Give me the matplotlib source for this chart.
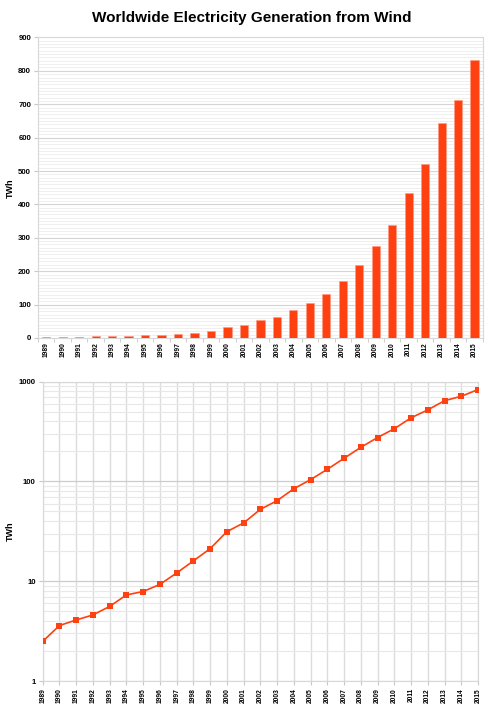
import matplotlib
matplotlib.use('Agg')
from matplotlib import pyplot as plt
from matplotlib.ticker import FixedLocator, NullFormatter, LogLocator
import numpy as np

years = [str(y) for y in range(1989, 2016)]
twh = [2.5, 3.6, 4.1, 4.6, 5.6, 7.3, 7.9, 9.3, 12.1, 16.0, 21.2, 31.4, 38.4,
       52.5, 64.2, 84.5, 104.3, 132.3, 170.5, 219.4, 275.4, 337.2, 433.5,
       520.6, 643.9, 712.7, 831.8]

red = '#ff4010'
plt.rcParams['font.family'] = ['Liberation Sans', 'DejaVu Sans']

fig = plt.figure(figsize=(5.04, 7.2), dpi=100)
fig.suptitle('Worldwide Electricity Generation from Wind', fontsize=11,
             fontweight='bold', y=0.985)

x = np.arange(len(years))

# --- linear bar chart ---
ax1 = fig.add_axes([0.0754, 0.5306, 0.8826, 0.4174])
ax1.bar(x, twh, width=0.5, color=red, edgecolor='#ff9a80', linewidth=0.5, zorder=3)
ax1.set_xlim(-0.5, len(years) - 0.5)
ax1.set_ylim(0, 900)
ax1.set_yticks(np.arange(0, 901, 100))
ax1.yaxis.set_minor_locator(FixedLocator(np.arange(0, 901, 10)))
ax1.grid(axis='y', which='major', color='#d4d4d4', linewidth=0.8, zorder=0)
ax1.grid(axis='y', which='minor', color='#ececec', linewidth=0.6, zorder=0)
ax1.set_xticks(x)
ax1.set_xticklabels(years, rotation=90, fontsize=4.8, fontweight='bold')
ax1.xaxis.set_minor_locator(FixedLocator(np.arange(-0.5, len(years), 1)))
ax1.tick_params(axis='x', which='major', length=0, pad=3)
ax1.tick_params(axis='x', which='minor', length=3, color='#c8c8c8')
ax1.tick_params(axis='y', which='major', length=3, color='#c8c8c8', labelsize=5.6, pad=2)
ax1.tick_params(axis='y', which='minor', length=0)
for lbl in ax1.get_yticklabels():
    lbl.set_fontweight('bold')
for s in ax1.spines.values():
    s.set_color('#d8d8d8')
fig.text(10 / 504, 1 - 188 / 720, 'TWh', rotation=90, fontsize=6.5,
         fontweight='bold', ha='center', va='center')

# --- log line chart ---
ax2 = fig.add_axes([0.0847, 0.054, 0.8637, 0.416])
ax2.plot(x, twh, color=red, linewidth=1.2, marker='s', markersize=4.3,
         markeredgewidth=0, zorder=3)
ax2.set_yscale('log')
ax2.set_ylim(1, 1000)
ax2.set_xlim(0, len(years) - 1)
ax2.set_yticks([1, 10, 100, 1000])
ax2.set_yticklabels(['1', '10', '100', '1000'])
ax2.yaxis.set_minor_locator(LogLocator(base=10, subs=np.arange(2, 10)))
ax2.yaxis.set_minor_formatter(NullFormatter())
ax2.set_xticks(x)
ax2.set_xticklabels(years, rotation=90, fontsize=4.8, fontweight='bold')
ax2.grid(axis='x', color='#dcdcdc', linewidth=1.0, zorder=0)
ax2.grid(axis='y', which='major', color='#cccccc', linewidth=0.9, zorder=0)
ax2.grid(axis='y', which='minor', color='#e8e8e8', linewidth=0.8, zorder=0)
ax2.tick_params(axis='x', length=3, color='#c8c8c8', pad=2)
ax2.tick_params(axis='y', which='major', length=3, color='#c8c8c8', labelsize=5.6, pad=2)
ax2.tick_params(axis='y', which='minor', length=0)
for lbl in ax2.get_yticklabels():
    lbl.set_fontweight('bold')
for s in ax2.spines.values():
    s.set_color('#d8d8d8')
fig.text(10 / 504, 1 - 531 / 720, 'TWh', rotation=90, fontsize=6.5,
         fontweight='bold', ha='center', va='center')

fig.savefig('out.png', dpi=100)
plt.close(fig)
